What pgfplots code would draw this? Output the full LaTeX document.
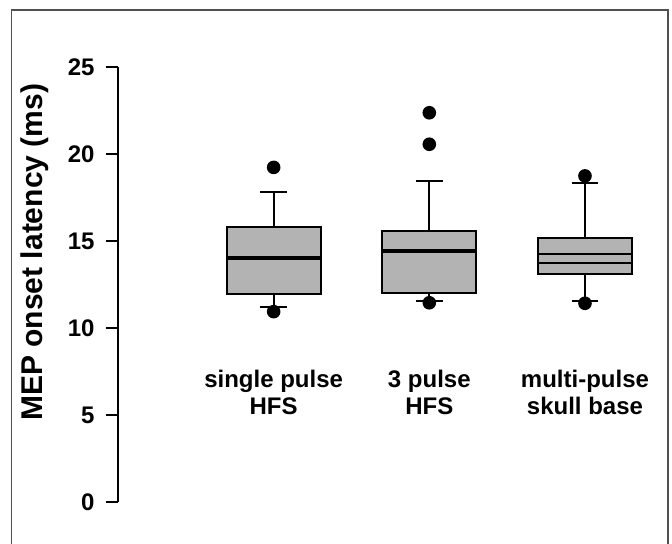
\documentclass[border=0pt]{standalone}
\usepackage{pgfplots}
\pgfplotsset{compat=1.18}
\usepgfplotslibrary{statistics}
\usepackage{fontspec}
\setmainfont{Liberation Sans}
\definecolor{boxgray}{RGB}{179,179,179}
\definecolor{framegray}{RGB}{80,80,80}

\begin{document}
\begin{tikzpicture}
% page is 672 x 544 bp, one bp per reference pixel
\path[use as bounding box] (0,0) rectangle (672bp,544bp);
\draw[framegray, line width=1.5bp] (11.5bp,0) -- (11.5bp,534bp) -- (668bp,534bp) -- (668bp,0);
\begin{axis}[
    at={(118bp,42bp)}, anchor=south west,
    scale only axis,
    width=544.8bp, height=435bp,
    xmin=0, xmax=3.5, ymin=0, ymax=25,
    clip=false,
    axis x line=none,
    axis y line=left,
    y axis line style={-, line width=1.8bp},
    ytick={0,5,10,15,20,25},
    tick align=outside,
    major tick length=12bp,
    ytick style={black, line width=1.8bp},
    /pgf/number format/assume math mode=true,
    tick label style={font=\fontsize{24bp}{28bp}\selectfont\bfseries},
    yticklabel style={xshift=-8bp},
    ylabel={MEP onset latency (ms)},
    ylabel style={at={(axis description cs:-0.152,0.574)}, anchor=center,
                  font=\fontsize{30bp}{36bp}\selectfont\bfseries},
    boxplot/draw direction=y,
    boxplot/box extend=0.604,
    boxplot/whisker extend=0.172,
    boxplot/every median/.style={line width=3.8bp},
]
\addplot[fill=boxgray, draw=black, line width=2bp,
    mark=*, mark size=5.8bp, mark options={fill=black, draw=black},
    boxplot prepared={draw position=1,
        lower whisker=11.22, lower quartile=11.95, median=14.04,
        upper quartile=15.82, upper whisker=17.83}]
    table[row sep=\\, y index=0] {19.23\\10.94\\};
\addplot[fill=boxgray, draw=black, line width=2bp,
    mark=*, mark size=5.8bp, mark options={fill=black, draw=black},
    boxplot prepared={draw position=2,
        lower whisker=11.57, lower quartile=12.03, median=14.44,
        upper quartile=15.57, upper whisker=18.47}]
    table[row sep=\\, y index=0] {22.37\\20.56\\11.45\\};
\addplot[fill=boxgray, draw=black, line width=2bp,
    mark=*, mark size=5.8bp, mark options={fill=black, draw=black},
    boxplot prepared={draw position=3,
        lower whisker=11.55, lower quartile=13.10, median=14.25,
        upper quartile=15.15, upper whisker=18.32,
        every median/.style={line width=2.2bp}}]
    table[row sep=\\, y index=0] {18.74\\11.42\\};
% second line inside the third box
\addplot[black, line width=2.2bp, mark=none] coordinates {(2.698,13.75) (3.302,13.75)};

\node[font=\fontsize{24bp}{27bp}\selectfont\bfseries, align=center] at (axis cs:1,6.29) {single pulse\\HFS};
\node[font=\fontsize{24bp}{27bp}\selectfont\bfseries, align=center] at (axis cs:2,6.29) {3 pulse\\HFS};
\node[font=\fontsize{24bp}{27bp}\selectfont\bfseries, align=center] at (axis cs:3,6.29) {multi-pulse\\skull base};
\end{axis}
\end{tikzpicture}
\end{document}
